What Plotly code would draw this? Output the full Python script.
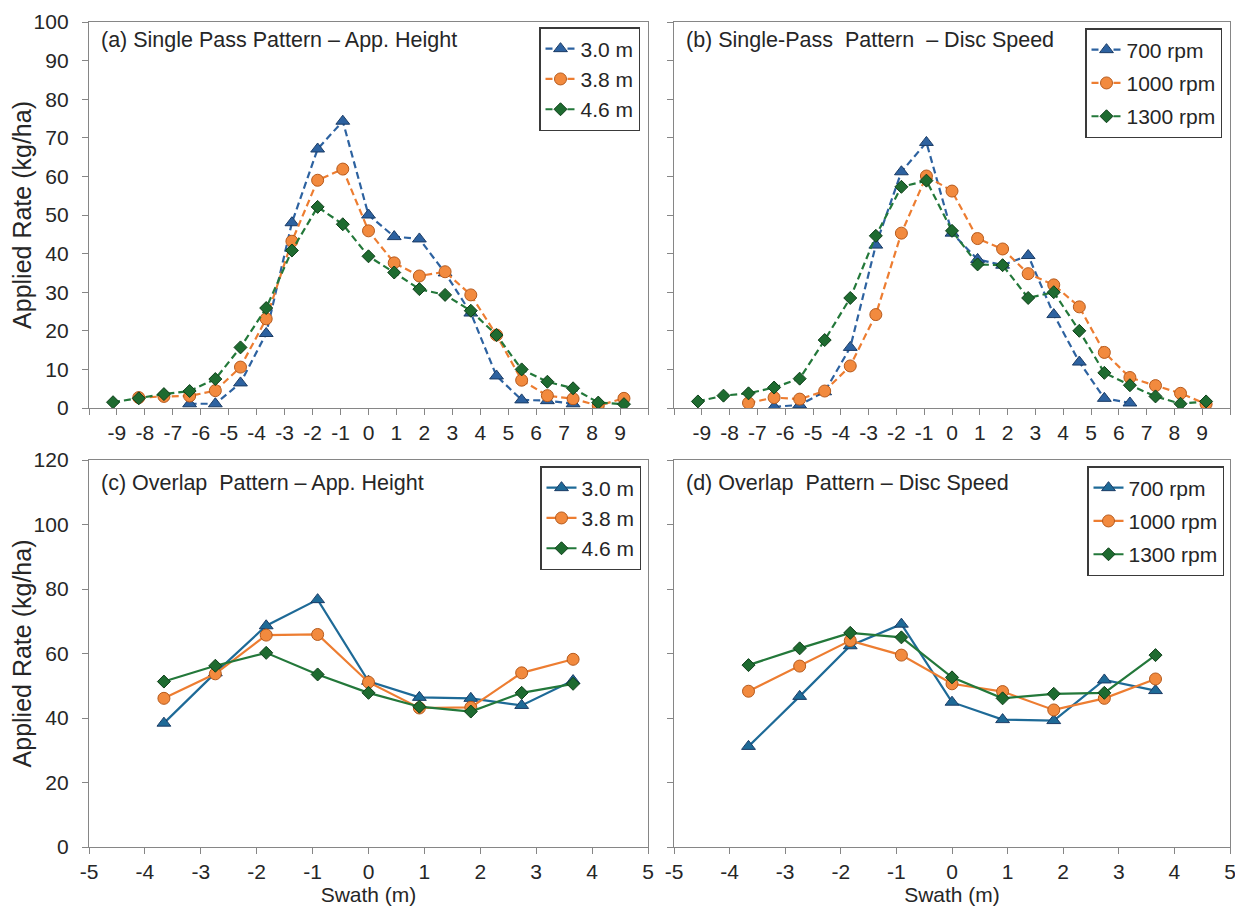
import plotly.graph_objects as go

# ---------------- data ----------------
swath_single = [-4.57, -4.11, -3.66, -3.20, -2.74, -2.29, -1.83, -1.37, -0.91, -0.46,
                0.00, 0.46, 0.91, 1.37, 1.83, 2.29, 2.74, 3.20, 3.66, 4.11, 4.57]
swath_overlap = [-3.66, -2.74, -1.83, -0.91, 0.00, 0.91, 1.83, 2.74, 3.66]

# (a) single pass - application height
a_30 = [None, None, None, 1.1, 1.1, 6.5, 19.3, 48.0, 67.1, 74.3,
        50.0, 44.4, 43.8, 35.0, 24.6, 8.3, 2.1, 1.9, 1.1, None, None]
a_38 = [None, 2.7, 3.0, 3.1, 4.5, 10.6, 23.1, 43.2, 59.0, 61.9,
        45.9, 37.6, 34.2, 35.3, 29.3, 18.9, 7.2, 3.2, 2.4, 0.6, 2.5]
a_46 = [1.5, 2.5, 3.6, 4.4, 7.5, 15.7, 25.9, 40.8, 52.1, 47.6,
        39.3, 35.1, 30.8, 29.3, 25.2, 18.9, 10.0, 6.8, 5.1, 1.4, 1.0]

# (b) single pass - disc speed
b_700 = [None, None, None, 0.3, 0.8, 4.2, 15.7, 42.2, 61.2, 68.8,
         45.3, 38.5, 37.0, 39.5, 24.2, 11.9, 2.5, 1.3, None, None, None]
b_1000 = [None, None, 1.3, 2.7, 2.3, 4.4, 10.9, 24.2, 45.3, 60.1,
          56.2, 43.9, 41.2, 34.8, 31.9, 26.2, 14.4, 7.9, 5.8, 3.8, 1.0]
b_1300 = [1.7, 3.2, 3.8, 5.3, 7.6, 17.6, 28.5, 44.6, 57.3, 58.9,
          45.9, 37.2, 37.0, 28.5, 30.0, 20.0, 9.1, 5.9, 3.0, 1.1, 1.7]

# (c) overlap - application height
c_30 = [38.4, 54.0, 68.6, 76.7, 51.4, 46.4, 46.1, 43.9, 51.6]
c_38 = [46.1, 53.7, 65.7, 65.9, 51.1, 43.1, 43.3, 54.0, 58.2]
c_46 = [51.3, 56.2, 60.2, 53.5, 47.8, 43.5, 42.0, 47.8, 50.6]

# (d) overlap - disc speed
d_700 = [31.2, 46.7, 62.4, 69.1, 44.9, 39.5, 39.2, 51.8, 48.5]
d_1000 = [48.3, 56.1, 64.0, 59.5, 50.6, 48.2, 42.5, 46.1, 52.1]
d_1300 = [56.4, 61.6, 66.4, 65.0, 52.6, 46.1, 47.5, 47.8, 59.5]

height_names = ["3.0 m", "3.8 m", "4.6 m"]
speed_names = ["700 rpm", "1000 rpm", "1300 rpm"]

top_tickvals = [-5, -4.5, -4, -3.5, -3, -2.5, -2, -1.5, -1, -0.5, 0,
                0.5, 1, 1.5, 2, 2.5, 3, 3.5, 4, 4.5, 5]
top_ticktext = ["", "-9", "-8", "-7", "-6", "-5", "-4", "-3", "-2", "-1", "0",
                "1", "2", "3", "4", "5", "6", "7", "8", "9", ""]
bottom_tickvals = [-5, -4, -3, -2, -1, 0, 1, 2, 3, 4, 5]
bottom_ticktext = ["-5", "-4", "-3", "-2", "-1", "0", "1", "2", "3", "4", "5"]

panel_titles = ["(a) Single Pass Pattern \u2013 App. Height",
                "(b) Single-Pass\u00a0 Pattern\u00a0 \u2013 Disc Speed",
                "(c) Overlap\u00a0 Pattern \u2013 App. Height",
                "(d) Overlap\u00a0 Pattern \u2013 Disc Speed"]

# ---------------- style ----------------
PAGE_W, PAGE_H = 1243, 917
OFF = 8                      # default body margin of the html page
W, H = PAGE_W - 2 * OFF, PAGE_H - 2 * OFF
FONT = "Liberation Sans, Arial, sans-serif"
FS = 21
TXT = "#262626"
AX = "#868686"

blue_top = "#2D62A0"
blue_bot = "#1E6A97"
orange = "#ED7D31"
orange_fill = "#F28A3E"
orange_edge = "#B65A1C"
green = "#23783A"
green_fill = "#1E6B30"
green_edge = "#0F3F1A"


def px_x(p):
    return (p - OFF) / W


def px_y(p):
    return 1 - (p - OFF) / H


L0, L1 = 89, 648
R0, R1 = 674, 1230
T0, T1 = 22, 408
B0, B1 = 460, 847

fig = go.Figure()


def add_series(x, ys, names, xa, ya, legend, dash, blue, tag):
    styles = [
        dict(color=blue, symbol="triangle-up", size=12, fill=blue, edge="#1B3C66"),
        dict(color=orange, symbol="circle", size=12, fill=orange_fill, edge=orange_edge),
        dict(color=green, symbol="diamond", size=10, fill=green_fill, edge=green_edge),
    ]
    for i, (y, n, s) in enumerate(zip(ys, names, styles)):
        fig.add_trace(go.Scatter(
            x=x, y=y, name=n, mode="lines+markers",
            xaxis=xa, yaxis=ya, legend=legend, legendgroup=f"{tag}{i}",
            connectgaps=False,
            line=dict(color=s["color"], width=2.2, dash=dash),
            marker=dict(symbol=s["symbol"], size=s["size"], color=s["fill"],
                        line=dict(color=s["edge"], width=1)),
        ))


add_series(swath_single, [a_30, a_38, a_46], height_names, "x", "y", "legend", "7px,4px", blue_top, "a")
add_series(swath_single, [b_700, b_1000, b_1300], speed_names, "x2", "y2", "legend2", "7px,4px", blue_top, "b")
add_series(swath_overlap, [c_30, c_38, c_46], height_names, "x3", "y3", "legend3", "solid", blue_bot, "c")
add_series(swath_overlap, [d_700, d_1000, d_1300], speed_names, "x4", "y4", "legend4", "solid", blue_bot, "d")


def xaxis(domain, anchor, tickvals, ticktext, title=None):
    d = dict(domain=domain, anchor=anchor, range=[-5, 5], showgrid=False, zeroline=False,
             automargin=False, ticklabeloverflow="allow",
             showline=True, linecolor=AX, linewidth=1.3, mirror=True,
             ticks="outside", ticklen=6, tickcolor=AX, tickwidth=1.3,
             tickmode="array", tickvals=tickvals, ticktext=ticktext,
             tickfont=dict(family=FONT, size=FS, color=TXT))
    if title:
        d["title"] = dict(text=title, font=dict(family=FONT, size=FS, color=TXT), standoff=4)
    return d


def yaxis(domain, anchor, rng, dtick, labels, title=None):
    d = dict(domain=domain, anchor=anchor, range=rng, dtick=dtick, showgrid=False,
             zeroline=False, automargin=False, ticklabeloverflow="allow",
             showline=True, linecolor=AX, linewidth=1.3, mirror=True,
             ticks="outside", ticklen=6, tickcolor=AX, tickwidth=1.3,
             showticklabels=labels, ticklabelstandoff=9,
             tickfont=dict(family=FONT, size=FS, color=TXT))
    if title:
        d["title"] = dict(text=title, font=dict(family=FONT, size=25, color=TXT), standoff=1)
    return d


xl = [px_x(L0), px_x(L1)]
xr = [px_x(R0), px_x(R1)]
yt = [px_y(T1), px_y(T0)]
yb = [px_y(B1), px_y(B0)]


def legend_cfg(x_right, y_top, gap):
    return dict(x=px_x(x_right), y=px_y(y_top), xanchor="right", yanchor="top",
                bgcolor="white", bordercolor="#3A3A3A", borderwidth=1.5,
                font=dict(family=FONT, size=FS, color=TXT),
                itemwidth=30, tracegroupgap=gap)


fig.update_layout(
    width=W, height=H,
    margin=dict(l=0, r=0, t=0, b=0, autoexpand=False),
    paper_bgcolor="white", plot_bgcolor="white",
    font=dict(family=FONT, size=FS, color=TXT),
    xaxis=xaxis(xl, "y", top_tickvals, top_ticktext),
    yaxis=yaxis(yt, "x", [0, 100], 10, True, "Applied Rate (kg/ha)"),
    xaxis2=xaxis(xr, "y2", top_tickvals, top_ticktext),
    yaxis2=yaxis(yt, "x2", [0, 100], 10, False),
    xaxis3=xaxis(xl, "y3", bottom_tickvals, bottom_ticktext, "Swath (m)"),
    yaxis3=yaxis(yb, "x3", [0, 120], 20, True, "Applied Rate (kg/ha)"),
    xaxis4=xaxis(xr, "y4", bottom_tickvals, bottom_ticktext, "Swath (m)"),
    yaxis4=yaxis(yb, "x4", [0, 120], 20, False),
    legend=legend_cfg(640, 27, 0),
    legend2=legend_cfg(1222, 28, 3),
    legend3=legend_cfg(641, 466, 0),
    legend4=legend_cfg(1224, 466, 3),
    showlegend=True,
)

title_pos = [(99, 40), (684, 40), (99, 483), (684, 483)]
for t, (px, py) in zip(panel_titles, title_pos):
    fig.add_annotation(text=t, x=px_x(px), y=px_y(py), xref="paper", yref="paper",
                       xanchor="left", yanchor="middle", showarrow=False,
                       font=dict(family=FONT, size=21.5, color=TXT))

fig.write_html("out.html")
